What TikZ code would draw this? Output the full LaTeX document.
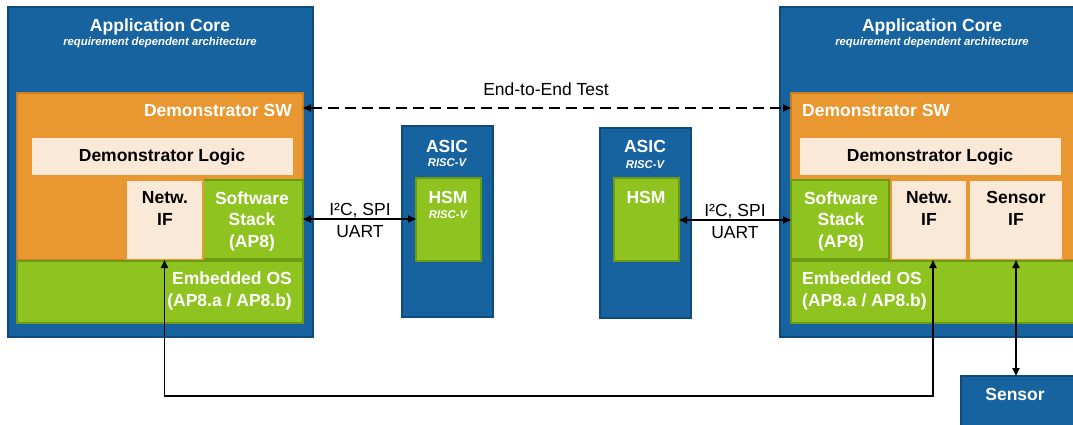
\documentclass[tikz,border=0pt]{standalone}
\usepackage{fontspec}
\setmainfont{Liberation Sans}
\usetikzlibrary{arrows.meta,positioning,fit}
\definecolor{coreblue}{HTML}{1763A0}
\definecolor{coreedge}{HTML}{0E4B7C}
\definecolor{swor}{HTML}{E99730}
\definecolor{sworedge}{HTML}{CC7E22}
\definecolor{ifbeige}{HTML}{FBE9D7}
\definecolor{osgreen}{HTML}{8FC31F}
\definecolor{osedge}{HTML}{6C9A12}
\tikzset{
  box/.style={draw, line width=1.6pt, inner sep=0pt, outer sep=0pt},
  corebox/.style={box, fill=coreblue, draw=coreedge},
  swbox/.style={box, fill=swor, draw=sworedge},
  ifbox/.style={box, fill=ifbeige, draw=swor},
  osbox/.style={box, fill=osgreen, draw=osedge},
  bigtxt/.style={font=\bfseries\fontsize{17.5}{21.3}\selectfont, inner sep=0pt, align=center},
  smalltxt/.style={font=\bfseries\itshape\fontsize{11.3}{13}\selectfont, inner sep=0pt},
  plaintxt/.style={font=\fontsize{17.5}{21.3}\selectfont, inner sep=0pt, align=center},
  wt/.style={text=white},
  conn/.style={line width=1.8pt, {Triangle[length=8pt,width=7pt]}-{Triangle[length=8pt,width=7pt]}}
}
\begin{document}
\begin{tikzpicture}[x=1pt,y=-1pt]
\useasboundingbox (0,0) rectangle (1073,425);
\fill[white] (0,0) rectangle (1073,425);
% left application core
\node[corebox, fit={(8,7) (313,337)}] (coreL) {};
\node[bigtxt, wt, anchor=base] (titleL) at (160,32) {Application Core};
\node[smalltxt, wt, anchor=base] at (160,46) {requirement dependent architecture};
\node[swbox, fit={(17,93) (303,260)}] (swL) {};
\node[bigtxt, wt, anchor=base east] at (292,117) {Demonstrator SW};
\node[ifbox, fit={(31,137) (294,176)}] (logicL) {};
\node[bigtxt, anchor=base] at (162,161) {Demonstrator Logic};
\node[osbox, fit={(203,180) (303,259)}] (stackL) {};
\node[bigtxt, wt, anchor=base] at (252,247) {Software\\Stack\\(AP8)};
\node[ifbox, fit={(126,180) (203,260)}] (netL) {};
\node[bigtxt, anchor=base] at (165,225) {Netw.\\IF};
\node[osbox, fit={(17,261) (303,323)}] (osL) {};
\node[bigtxt, wt, anchor=base east, align=right] at (292,306) {Embedded OS\\(AP8.a / AP8.b)};
% left ASIC
\node[corebox, fit={(402,126) (493,317)}] (asicL) {};
\node[bigtxt, wt, anchor=base] (asicLt) at (447,152) {ASIC};
\node[smalltxt, wt, anchor=base] at (447,166) {RISC-V};
\node[osbox, fit={(416,178) (481,261)}] (hsmL) {};
\node[bigtxt, wt, anchor=base] at (448,203) {HSM};
\node[smalltxt, wt, anchor=base] at (448,218) {RISC-V};
% right ASIC
\node[corebox, fit={(600,128) (691,318)}] (asicR) {};
\node[bigtxt, wt, anchor=base] at (645,153) {ASIC};
\node[smalltxt, wt, anchor=base] at (645,168) {RISC-V};
\node[osbox, fit={(614,178) (679,261)}] (hsmR) {};
\node[bigtxt, wt, anchor=base] at (646,203) {HSM};
% right application core
\node[corebox, fit={(780,7) (1095,337)}] (coreR) {};
\node[bigtxt, wt, anchor=base] at (932,32) {Application Core};
\node[smalltxt, wt, anchor=base] at (932,46) {requirement dependent architecture};
\node[swbox, fit={(791,93) (1085,260)}] (swR) {};
\node[bigtxt, wt, anchor=base west] at (802,117) {Demonstrator SW};
\node[ifbox, fit={(799,137) (1062,176)}] (logicR) {};
\node[bigtxt, anchor=base] at (930,161) {Demonstrator Logic};
\node[osbox, fit={(791,180) (889,259)}] (stackR) {};
\node[bigtxt, wt, anchor=base] at (841,247) {Software\\Stack\\(AP8)};
\node[ifbox, fit={(891,180) (967,260)}] (netR) {};
\node[bigtxt, anchor=base] at (929,225) {Netw.\\IF};
\node[ifbox, fit={(969,180) (1063,260)}] (sensifR) {};
\node[bigtxt, anchor=base] at (1016,225) {Sensor\\IF};
\node[osbox, fit={(791,261) (1085,323)}] (osR) {};
\node[bigtxt, wt, anchor=base west, align=left] at (802,306) {Embedded OS\\(AP8.a / AP8.b)};
% sensor
\node[corebox, fit={(961,376) (1090,440)}] (sensor) {};
\node[bigtxt, wt, anchor=base] at (1015,400) {Sensor};
% connections
\draw[conn, dashed, dash pattern=on 11pt off 6pt] (swL.east |- 0,108) -- (swR.west |- 0,108);
\node[plaintxt, anchor=base] at (546,96) {End-to-End Test};
\draw[conn] (stackL.east |- 0,219) -- (hsmL.west |- 0,219);
\node[plaintxt, anchor=base] at (360,237) {I²C, SPI\\UART};
\draw[conn] (hsmR.east |- 0,220) -- (stackR.west |- 0,220);
\node[plaintxt, anchor=base] at (735,238) {I²C, SPI\\UART};
\draw[conn] (netL.south) -- ++(0,136) -| ([xshift=4pt]netR.south);
\draw[conn] (sensifR.south) -- (sensifR.south |- sensor.north);
\end{tikzpicture}
\end{document}
